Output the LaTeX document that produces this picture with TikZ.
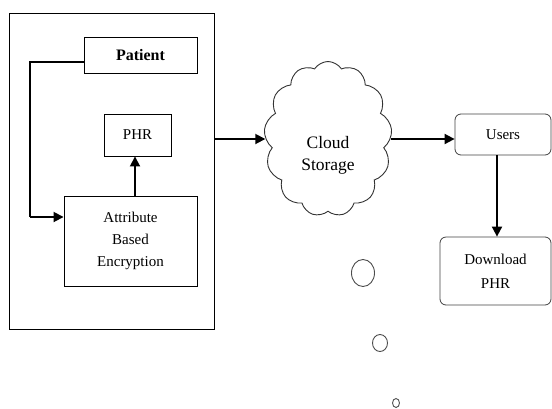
\documentclass[tikz,border=0pt]{standalone}
\usepackage{fontspec}
\setmainfont{Liberation Serif}
\usetikzlibrary{shapes.symbols,arrows.meta}
\begin{document}
\begin{tikzpicture}[x=1pt,y=-1pt,
  box/.style={draw,line width=0.9pt,inner sep=0pt,align=center,font=\fontsize{15}{22}\selectfont},
  rbox/.style={box,rounded corners=6pt,line width=0.8pt,draw=black!75},
  arr/.style={line width=1.8pt,-{Triangle[length=10pt,width=10pt]}},
  ln/.style={line width=1.1pt},
  bubble/.style={draw=black!70,line width=0.9pt}]
\useasboundingbox (0,0) rectangle (552,408);
\node[box,minimum width=205pt,minimum height=316pt] (outer) at (111.5,171) {};
\node[box,minimum width=113pt,minimum height=36pt,font=\fontsize{16}{18}\selectfont\bfseries] (patient) at (140.5,55) {Patient};
\node[box,minimum width=67pt,minimum height=42pt] (phr) at (137.5,135) {PHR};
\node[box,minimum width=133pt,minimum height=90pt,text width=120pt] (abe) at (130.5,241) {Attribute\\Based\\Encryption};
\coordinate (c1) at (30,62);
\coordinate (c2) at (30,217);
\draw[ln] (patient.west |- c1) -- (c1) -- (c2);
\draw[arr] (c2) -- (abe.west |- c2);
\draw[arr] (abe.north -| 135,0) -- (phr.south -| 135,0);
\node[cloud,draw=black!80,line width=0.9pt,cloud puffs=13,cloud puff arc=115,minimum width=128pt,minimum height=155pt,aspect=0.82] (cloud) at (328,139) {};
\node[font=\fontsize{17.5}{22}\selectfont,align=center] (ctext) at (328,155) {Cloud\\Storage};
\node[rbox,minimum width=96pt,minimum height=41pt] (users) at (503,134.5) {Users};
\node[rbox,minimum width=111pt,minimum height=68pt,font=\fontsize{15}{24}\selectfont] (dl) at (495.5,271) {Download\\PHR};
\draw[arr] (outer.east |- cloud.west) -- (cloud.west);
\draw[arr] (cloud.east) -- (users.west |- cloud.east);
\draw[arr] (users.south -| 497,0) -- (dl.north -| 497,0);
\draw[bubble] (363,273) ellipse (11.5pt and 13.5pt);
\draw[bubble] (380,343) ellipse (7.5pt and 8.5pt);
\draw[bubble] (396,403) ellipse (3.5pt and 4.5pt);
\end{tikzpicture}
\end{document}
